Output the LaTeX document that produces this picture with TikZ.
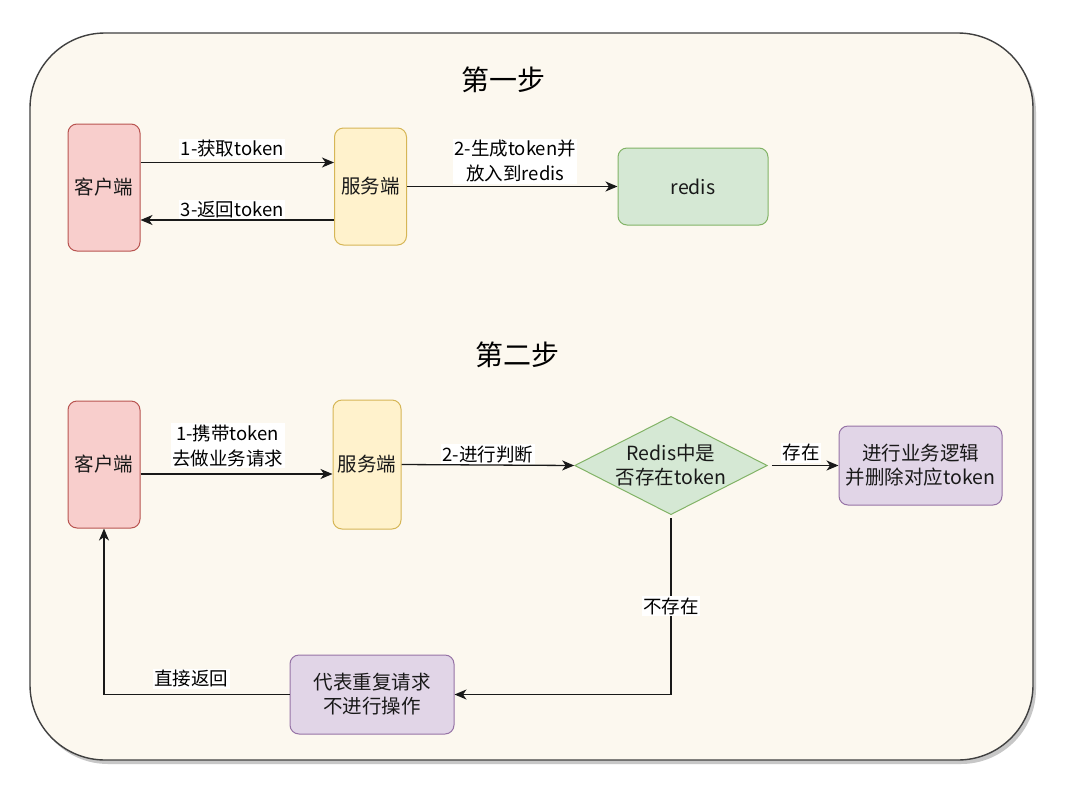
\documentclass[tikz,border=0pt]{standalone}
\usepackage{fontspec}
\setmainfont{Noto Sans CJK SC}
\usetikzlibrary{arrows.meta,shapes.geometric}
\definecolor{bgc}{HTML}{FCF8EF}
\definecolor{redf}{HTML}{F8CECC}\definecolor{reds}{HTML}{B85450}
\definecolor{yelf}{HTML}{FFF2CC}\definecolor{yels}{HTML}{D6B656}
\definecolor{grnf}{HTML}{D5E8D4}\definecolor{grns}{HTML}{82B366}
\definecolor{purf}{HTML}{E1D5E7}\definecolor{purs}{HTML}{9673A6}
\begin{document}
\begin{tikzpicture}[x=1pt,y=-1pt,
  box/.style={draw, rounded corners=9pt, line width=1pt, align=center,
    font=\fontsize{19.5}{24}\selectfont, inner sep=0pt, text=black!90},
  redbox/.style={box, fill=redf, draw=reds, minimum width=72pt, minimum height=127pt},
  yelbox/.style={box, fill=yelf, draw=yels},
  grnbox/.style={box, fill=grnf, draw=grns},
  purbox/.style={box, fill=purf, draw=purs, minimum width=163pt, minimum height=79pt},
  lbl/.style={fill=white, inner sep=1.5pt, align=center, font=\fontsize{18.5}{25}\selectfont, text=black},
  ttl/.style={font=\fontsize{28}{32}\selectfont, text=black},
  arr/.style={-{Stealth[length=12pt,width=10pt,inset=3.5pt]}, line width=1.3pt, black!90}]
\path[use as bounding box, fill=white] (0,0) rectangle (1080,796);
% shadow and outer frame
\fill[black!22, rounded corners=75pt] (33,37) rectangle (1036,764);
\draw[fill=bgc, draw=black!75, line width=1.4pt, rounded corners=75pt] (30,33) rectangle (1033,760);

\node[ttl] (t1) at (503,80) {第一步};
\node[ttl] (t2) at (517,355) {第二步};

% step 1
\node[redbox] (c1) at (104,187.5) {客户端};
\node[yelbox, minimum width=72pt, minimum height=117pt] (s1) at (370.5,186.5) {服务端};
\node[grnbox, minimum width=150pt, minimum height=77pt] (r) at (693,186.5) {redis};

\draw[arr] ([yshift=25pt]c1.east) -- ([yshift=25pt]c1.east -| s1.west)
  node[lbl, midway, above=3pt, xshift=-5pt] {1-获取token};
\draw[arr] ([yshift=-33.5pt]s1.west) -- ([yshift=-33.5pt]s1.west -| c1.east)
  node[lbl, midway, above=0pt, xshift=-5pt] {3-返回token};
\draw[arr] (s1.east) -- (r.west)
  node[lbl, midway, above=2pt, xshift=3pt] {2-生成token并\\放入到redis};

% step 2
\node[redbox] (c2) at (104,464.5) {客户端};
\node[yelbox, minimum width=68pt, minimum height=129pt] (s2) at (367,464.5) {服务端};
\node[diamond, draw=grns, fill=grnf, line width=1pt, aspect=1.96, inner sep=0pt,
  minimum width=182pt, minimum height=93pt, align=center, text=black!90,
  font=\fontsize{19.5}{24}\selectfont] (d) at (671,465.5) {Redis中是\\否存在token};
\node[purbox] (b1) at (920.5,465.5) {进行业务逻辑\\并删除对应token};
\node[purbox, minimum width=164pt] (b2) at (372,694.5) {代表重复请求\\不进行操作};

\draw[arr] ([yshift=-9.5pt]c2.east) -- ([yshift=-9.5pt]c2.east -| s2.west)
  node[lbl, midway, above=5pt, xshift=-9pt] {1-携带token\\去做业务请求};
\draw[arr] (s2.east) -- (d.west)
  node[lbl, midway, above=0pt] {2-进行判断};
\draw[arr] ([xshift=4pt]d.east) -- (b1.west)
  node[lbl, midway, above=2pt, xshift=-4pt] {存在};
\draw[arr] ([yshift=-3pt]d.south) |- (b2.east)
  node[lbl, pos=0.25] {不存在};
\draw[arr] (b2.west) -| (c2.south)
  node[lbl, pos=0.265, above=5pt] {直接返回};
\end{tikzpicture}
\end{document}
